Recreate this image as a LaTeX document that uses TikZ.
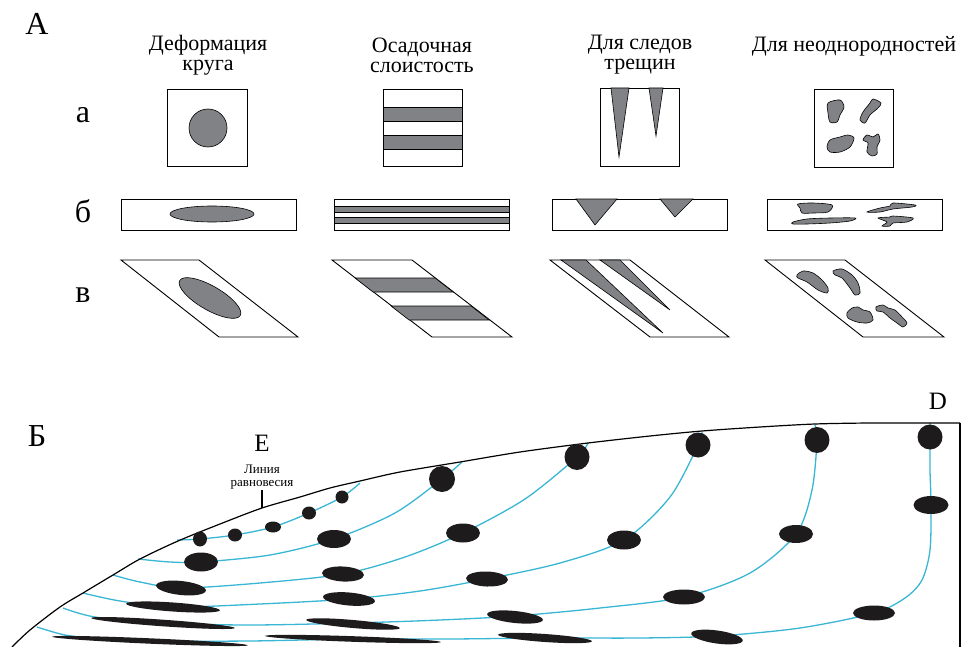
\documentclass[tikz,border=0pt]{standalone}
\usepackage{fontspec}
\setmainfont{Liberation Serif}
\definecolor{fillgray}{RGB}{128,130,134}
\definecolor{flowblue}{RGB}{56,182,212}
\definecolor{grainblack}{RGB}{30,27,28}

\begin{document}
\begin{tikzpicture}[x=1pt, y=-1pt,
  frame/.style={draw, line width=0.9pt},
  shaded/.style={fill=fillgray, draw, line width=0.6pt},
  flow/.style={flowblue, line width=1.3pt},
  grain/.style={fill=grainblack},
  biglbl/.style={font=\fontsize{32}{32}\selectfont, inner sep=0pt},
  head/.style={font=\fontsize{22}{20}\selectfont, align=center, inner sep=0pt},
  midlbl/.style={font=\fontsize{25}{25}\selectfont, inner sep=0pt},
  smalllbl/.style={font=\fontsize{13}{12.5}\selectfont, align=center, inner sep=1pt}]
\useasboundingbox (0,0) rectangle (963,647);
%%
%% part A: letters and column heads
\node[biglbl] (partA) at (37,24) {А};
\node[head] (hcircle) at (208,55) {Деформация\\круга};
\node[head] (hlayer)  at (422,55) {Осадочная\\слоистость};
\node[head] (hcrack)  at (640,55) {Для следов\\трещин};
\node[head] (hblob)   at (854,46) {Для неоднородностей};
\node[biglbl] (rowa) at (83,115) {а};
\node[biglbl] (rowb) at (83,211) {б};
\node[biglbl] (rowc) at (83,295) {в};
%%
%% row a: undeformed
\draw [frame] (167,89) rectangle (247,166);
\draw [shaded] (208,128) circle [radius=19];
\draw [frame] (383,89) rectangle (462,166);
\draw [shaded] (383,107) rectangle (462,121);
\draw [shaded] (383,135) rectangle (462,149);
\draw [frame] (600,88) rectangle (679,166);
\draw [shaded] (611,88) -- (629,88) -- (619,157) -- cycle;
\draw [shaded] (649,88) -- (663,88) -- (656,136) -- cycle;
\draw [frame] (814,89) rectangle (893,167);
\draw [shaded] plot [smooth cycle] coordinates {(828,103) (840,100) (844,107) (840,115) (837,122) (830,122) (828,113)};
\draw [shaded] plot [smooth cycle] coordinates {(873,99) (881,103) (878,108) (870,115) (865,123) (860,120) (863,112) (870,103)};
\draw [shaded] plot [smooth cycle] coordinates {(827,147) (830,140) (840,137) (848,135) (854,138) (850,147) (840,152) (830,152)};
\draw [shaded] plot [smooth cycle] coordinates {(867,135) (873,137) (878,134) (880,140) (877,147) (877,154) (872,156) (867,152) (868,143) (863,140)};
%%
%% row b: flattened
\draw [frame] (121,199) rectangle (296,230);
\draw [shaded] (212,214) ellipse [x radius=42, y radius=8];
\draw [frame] (334,199) rectangle (509,230);
\draw [shaded] (334,206) rectangle (509,212);
\draw [shaded] (334,217) rectangle (509,223);
\draw [frame] (552,199) rectangle (727,230);
\draw [shaded] (576,199) -- (617,199) -- (595,225) -- cycle;
\draw [shaded] (660,199) -- (693,199) -- (675,217) -- cycle;
\draw [frame] (767,199) rectangle (942,230);
\draw [shaded] plot [smooth cycle] coordinates {(798,204) (813,203) (832,205) (828,212) (813,213) (802,213) (800,208)};
\draw [shaded] plot [smooth cycle] coordinates {(793,222) (807,219) (830,218) (855,218) (850,221) (830,223) (807,224) (793,224)};
\draw [shaded] plot [smooth cycle] coordinates {(867,212) (880,208) (890,206) (893,203) (915,205) (912,207) (893,209) (880,212)};
\draw [shaded] plot [smooth cycle] coordinates {(878,218) (890,217) (893,216) (913,218) (907,222) (893,223) (890,226) (882,226) (887,222)};
%%
%% row c: sheared
\draw [frame] (121,260) -- (199,260) -- (298,337) -- (219,337) -- cycle;
\draw [shaded] (210,298) ellipse [x radius=35, y radius=12, rotate=-30];
\draw [frame] (332,260) -- (412,260) -- (512,337) -- (432,337) -- cycle;
\draw [shaded] (355.1,278) -- (435.1,278) -- (453.1,292) -- (373.1,292) -- cycle;
\draw [shaded] (391.1,306) -- (471.1,306) -- (489.1,320) -- (409.1,320) -- cycle;
\draw [frame] (550,260) -- (630,260) -- (729,337) -- (650,337) -- cycle;
\draw [shaded] (561,260) -- (586,260) -- (663,333) -- cycle;
\draw [shaded] (600,260) -- (620,260) -- (670,310) -- cycle;
\draw [frame] (765,260) -- (845,260) -- (944,337) -- (863,337) -- cycle;
\draw [shaded] plot [smooth cycle] coordinates {(797,275) (803,271) (813,273) (822,280) (828,288) (827,293) (818,290) (807,282) (798,278)};
\draw [shaded] plot [smooth cycle] coordinates {(833,271) (842,269) (852,275) (858,283) (860,293) (855,295) (850,288) (842,278) (835,275)};
\draw [shaded] plot [smooth cycle] coordinates {(847,313) (852,308) (858,307) (863,310) (870,312) (873,320) (867,323) (857,322) (848,318)};
\draw [shaded] plot [smooth cycle] coordinates {(876,307) (883,305) (888,308) (895,310) (902,317) (907,323) (903,327) (897,323) (890,318) (883,312) (877,311)};
%%
%% part B: flow lines under the surface
\node[biglbl] (partB) at (37,436) {Б};
\node[midlbl] (pE) at (262,443) {E};
\node[midlbl] (pD) at (938,401) {D};
\node[smalllbl, anchor=south] (eqline) at (262,490) {Линия\\равновесия};
\coordinate (eqpt) at (262,508);
\draw [line width=1.1pt] (eqline.south) -- (eqpt);
%% flow lines
\draw [flow] plot [smooth] coordinates {(177,540) (200,539) (235,535) (273,527) (309,513) (342,497) (360,483)};
\draw [flow] plot [smooth] coordinates {(138,559) (170,562) (201,562) (270,555) (334,539) (395,513) (442,479) (462,462)};
\draw [flow] plot [smooth] coordinates {(113,575) (140,582) (181,588) (260,583) (343,574) (405,557) (463,533) (525,499) (577,457) (588,443)};
\draw [flow] plot [smooth] coordinates {(83,593) (120,601) (173,607) (260,604) (349,599) (420,591) (487,579) (560,563) (624,540) (670,497) (698,445) (702,432)};
\draw [flow] plot [smooth] coordinates {(63,608) (95,617) (163,623) (250,625) (353,623) (440,620) (515,616) (600,608) (684,597) (750,573) (796,534) (812,490) (817,440) (815,425)};
\draw [flow] plot [smooth] coordinates {(37,627) (65,635) (100,639) (150,641) (250,641) (353,639) (450,639) (545,638) (640,638) (717,636) (800,628) (874,613) (905,598) (922,580) (930,550) (931,505) (930,470) (930,437) (930,423)};
%% surface and right wall
\draw [line width=1.2pt] plot [smooth] coordinates {(12,647) (30,630) (60,607) (83,593) (113,575) (140,559) (178,541) (220,524) (262,508) (300,497) (330,488) (360,481) (400,472) (460,462) (520,452) (588,443) (650,436) (702,431) (760,427) (815,424) (870,423) (930,423) (960,423)};
\draw [line width=1.2pt] (960,423) -- (960,647);
%% grains
\fill [grain] (200,539) ellipse [x radius=7, y radius=7.5];
\fill [grain] (235,535) ellipse [x radius=7, y radius=6.5];
\fill [grain] (273,527) ellipse [x radius=8, y radius=5.5];
\fill [grain] (309,513) ellipse [x radius=7, y radius=6.5];
\fill [grain] (342,497) ellipse [x radius=6.5, y radius=6.5];
%%
\fill [grain] (201,562) ellipse [x radius=17, y radius=9.5];
\fill [grain] (334,539) ellipse [x radius=17, y radius=9];
\fill [grain] (442,479) ellipse [x radius=13, y radius=13];
%%
\fill [grain] (181,588) ellipse [x radius=25, y radius=7, rotate=-6];
\fill [grain] (343,574) ellipse [x radius=21, y radius=7.5, rotate=-3];
\fill [grain] (463,533) ellipse [x radius=17, y radius=9.5];
\fill [grain] (577,457) ellipse [x radius=12.5, y radius=13];
%%
\fill [grain] (173,607) ellipse [x radius=47, y radius=4.5, rotate=-4];
\fill [grain] (349,599) ellipse [x radius=26, y radius=6.5, rotate=-5];
\fill [grain] (487,579) ellipse [x radius=21, y radius=7.5, rotate=-2];
\fill [grain] (624,540) ellipse [x radius=17, y radius=9.5];
\fill [grain] (698,445) ellipse [x radius=12.5, y radius=12.5];
%%
\fill [grain] (163,623) ellipse [x radius=72, y radius=3.3, rotate=-4];
\fill [grain] (353,624) ellipse [x radius=47, y radius=4, rotate=-5];
\fill [grain] (515,617) ellipse [x radius=28, y radius=6, rotate=-6];
\fill [grain] (684,597) ellipse [x radius=21, y radius=7.5];
\fill [grain] (796,534) ellipse [x radius=17, y radius=9];
\fill [grain] (817,440) ellipse [x radius=12.5, y radius=13];
%%
\fill [grain] (150,641) ellipse [x radius=98, y radius=2.7, rotate=-2.5];
\fill [grain] (353,639) ellipse [x radius=88, y radius=2.8, rotate=-2];
\fill [grain] (545,638) ellipse [x radius=47, y radius=4, rotate=-4];
\fill [grain] (717,637) ellipse [x radius=26, y radius=6.5, rotate=-8];
\fill [grain] (874,613) ellipse [x radius=21, y radius=7.5];
\fill [grain] (931,505) ellipse [x radius=17.5, y radius=9];
\fill [grain] (930,437) ellipse [x radius=12.5, y radius=12.5];
%%
\end{tikzpicture}
\end{document}
